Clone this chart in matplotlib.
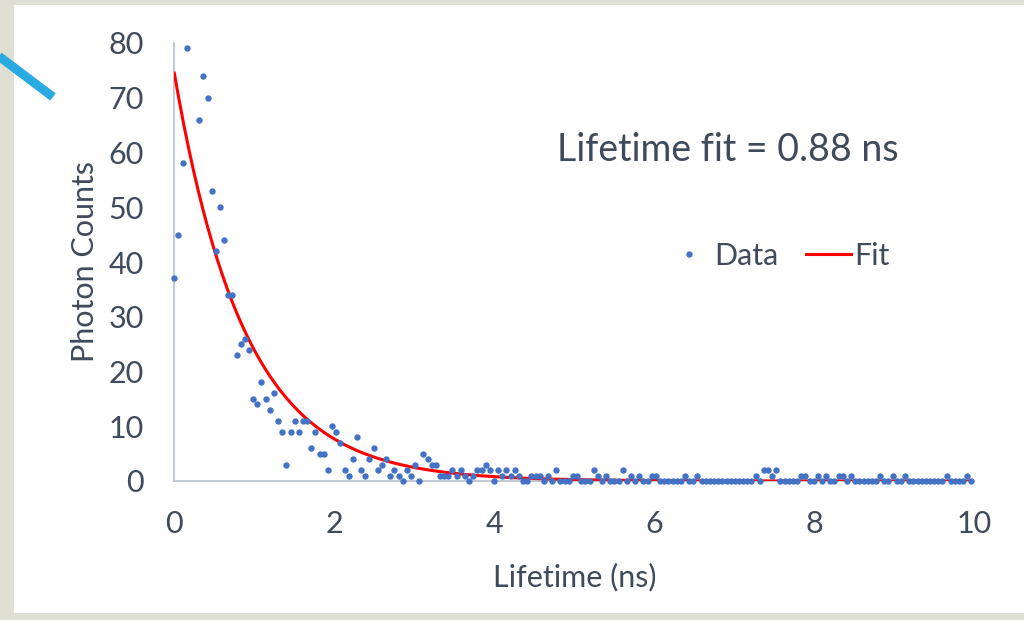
import numpy as np
import matplotlib.pyplot as plt
from matplotlib.lines import Line2D
from matplotlib.patches import Rectangle

plt.rcParams['font.family'] = ['Lato', 'DejaVu Sans']

# Time-correlated photon counting histogram
bin_width_ns = 0.0519
photon_counts = [
    37, 45, 58, 79, np.nan, np.nan, 66, 74, 70, 53,
    42, 50, 44, 34, 34, 23, 25, 26, 24, 15,
    14, 18, 15, 13, 16, 11, 9, 3, 9, 11,
    9, 11, 11, 6, 9, 5, 5, 2, 10, 9,
    7, 2, 1, 4, 8, 2, 1, 4, 6, 2,
    3, 4, 1, 2, 1, 0, 2, 1, 3, 0,
    5, 4, 3, 3, 1, 1, 1, 2, 1, 2,
    1, 0, 1, 2, 2, 3, 2, 0, 2, 1,
    2, 1, 2, 1, 0, 0, 1, 1, 1, 0,
    1, 0, 2, 0, 0, 0, 1, 1, 0, 0,
    0, 2, 1, 0, 1, 0, 0, 0, 2, 0,
    1, 0, 1, 0, 0, 1, 1, 0, 0, 0,
    0, 0, 0, 1, 0, 0, 1, 0, 0, 0,
    0, 0, 0, 0, 0, 0, 0, 0, 0, 0,
    1, 0, 2, 2, 1, 2, 0, 0, 0, 0,
    0, 1, 1, 0, 0, 1, 0, 1, 0, 0,
    1, 1, 0, 1, 0, 0, 0, 0, 0, 0,
    1, 0, 0, 1, 0, 0, 1, 0, 0, 0,
    0, 0, 0, 0, 0, 0, 1, 0, 0, 0,
    0, 1, 0,
]

# Single-exponential fit parameters
lifetime_ns = 0.88
fit_amplitude = 74.5

x_ticks = [0, 2, 4, 6, 8, 10]
y_ticks = [0, 10, 20, 30, 40, 50, 60, 70, 80]

text_color = '#3f4a5a'
data_color = '#4472c4'
fit_color = '#ff0000'
axis_color = '#bcc5d3'
label_size = 22

times = np.arange(len(photon_counts)) * bin_width_ns
counts = np.array(photon_counts, dtype=float)
t_fit = np.linspace(0, 10, 500)
fit_curve = fit_amplitude * np.exp(-t_fit / lifetime_ns)

W, H = 1024, 620
fig = plt.figure(figsize=(W / 100, H / 100), dpi=100)
fig.patch.set_facecolor('#dfe0d3')

# white slide panel
fig.add_artist(Rectangle((14 / W, 7 / H), 1010 / W, 608 / H,
                         transform=fig.transFigure, facecolor='white',
                         edgecolor='none', zorder=0))
# decorative accent stroke
fig.add_artist(Line2D([-12 / W, 53 / W], [1 - 48 / H, 1 - 97 / H],
                      transform=fig.transFigure, color='#29aae1', lw=6.5,
                      solid_capstyle='butt', zorder=1))

ax = fig.add_axes([174.3 / W, 139 / H, 800 / W, 438 / H])
ax.set_facecolor('none')

ax.plot(t_fit, fit_curve, color=fit_color, lw=2.2, label='Fit', zorder=3)
ax.plot(times, counts, 'o', ms=4.6, color=data_color, mec='none',
        label='Data', clip_on=False, zorder=4)

ax.set_xlim(0, 10)
ax.set_ylim(0, 80)
ax.set_xticks(x_ticks)
ax.set_yticks(y_ticks)
ax.tick_params(length=0, labelsize=label_size, labelcolor=text_color)
ax.tick_params(axis='y', pad=22)
ax.tick_params(axis='x', pad=21)

for side in ('top', 'right'):
    ax.spines[side].set_visible(False)
for side in ('left', 'bottom'):
    ax.spines[side].set_color(axis_color)
    ax.spines[side].set_linewidth(1.3)
    ax.spines[side].set_zorder(1)

ax.set_xlabel('Lifetime (ns)', fontsize=label_size, color=text_color, va='center')
ax.set_ylabel('Photon Counts', fontsize=label_size, color=text_color, va='center')
ax.xaxis.set_label_coords(0.5009, -0.219)
ax.yaxis.set_label_coords(-0.1116, 0.5)

ax.text(6.92, 60.5, f'Lifetime fit = {lifetime_ns} ns', fontsize=27,
        color=text_color, ha='center', va='center')

handles, labels = ax.get_legend_handles_labels()
ax.legend(handles[::-1], labels[::-1], loc='center', ncol=2,
          bbox_to_anchor=(0.755, 0.514), frameon=False, fontsize=label_size,
          labelcolor=text_color, handlelength=1.45, handletextpad=0.12,
          columnspacing=0.9, markerscale=1.0)

fig.savefig('out.png', dpi=100, facecolor=fig.get_facecolor())
